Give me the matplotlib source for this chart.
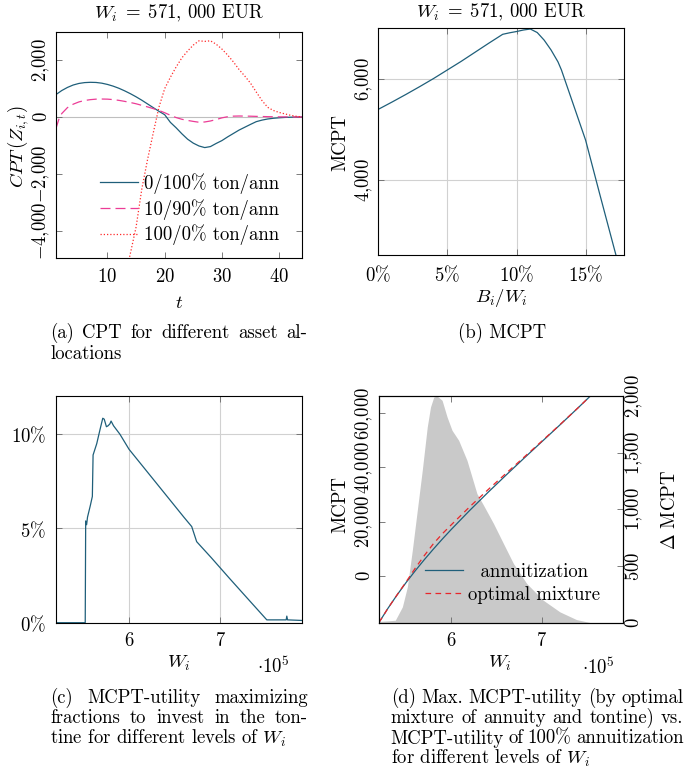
import numpy as np
import matplotlib
matplotlib.use('Agg')
import matplotlib.pyplot as plt
from matplotlib.ticker import FixedLocator, FuncFormatter

plt.rcParams['font.family'] = 'serif'
plt.rcParams['font.serif'] = ['cmr10']
plt.rcParams['mathtext.fontset'] = 'cm'
plt.rcParams['axes.unicode_minus'] = False
plt.rcParams['axes.formatter.use_mathtext'] = True

FS = 13.5
W_PX, H_PX = 685, 770

TEAL = '#1f5f7a'
PINK = '#ec3c96'
RED = '#ff2a2a'
RED_D = '#e8262a'
GRAY_FILL = '#c9c9c9'
GRID = '0.82'
TICK = '0.4'

# ---- (a) CPT per period for three allocations ----
t_ann = [1, 2, 3, 4, 5, 6, 7, 8, 9, 10, 11, 12, 13, 14, 15, 16, 17, 18, 19, 20,
         21, 22, 23, 24, 25, 26, 27, 28, 29, 30, 31, 32, 33, 34, 35, 36, 37, 38,
         39, 40, 41, 42, 43, 44]
cpt_ann = [790, 930, 1040, 1125, 1180, 1210, 1220, 1215, 1190, 1145, 1085, 1010,
           920, 820, 710, 590, 460, 330, 200, 80, -190, -380, -590, -780, -920,
           -1020, -1076, -1040, -930, -830, -700, -580, -460, -360, -260, -164,
           -110, -70, -45, -28, -15, -7, -3, 0]

t_mix = [1, 1.5, 2, 3, 4, 5, 6, 7, 8, 9, 10, 11, 12, 13, 14, 15, 16, 17, 18, 19,
         20, 21, 22, 23, 24, 25, 26, 27, 28, 29, 30, 31, 32, 33, 34, 35, 36, 38,
         40, 42, 44]
cpt_mix = [-397, -80, 120, 330, 450, 530, 580, 610, 628, 632, 628, 612, 585, 550,
           510, 465, 410, 355, 295, 230, 150, 60, -20, -80, -120, -155, -185,
           -175, -140, -90, -30, 10, 30, 35, 32, 28, 22, 12, 5, 2, 0]

t_ton = [13, 14, 15, 16, 17, 18, 19, 20, 21, 22, 23, 24, 25, 26, 27, 28, 29, 30,
         31, 32, 33, 34, 35, 36, 37, 38, 39, 40, 41, 42, 43, 44]
cpt_ton = [-5700, -4800, -3870, -2530, -1500, -560, 350, 1000, 1400, 1760, 2080,
           2320, 2530, 2680, 2660, 2680, 2560, 2390, 2180, 1940, 1670, 1440, 1190,
           880, 580, 340, 230, 160, 110, 60, 25, 0]

legend_a = ['0/100% ton/ann', '10/90% ton/ann', '100/0% ton/ann']

# ---- (b) MCPT vs tontine share ----
b_share = [0, 1, 2, 3, 4, 5, 6, 7, 8, 9, 9.5, 10, 10.5, 11, 11.5, 12, 12.5, 13,
           13.25, 14, 15, 16, 17.2]
b_mcpt = [5400, 5545, 5695, 5850, 6010, 6180, 6350, 6530, 6710, 6885, 6915, 6940,
          6970, 6990, 6920, 6770, 6575, 6340, 6180, 5585, 4790, 3745, 2510]

# ---- (c) optimal tontine fraction vs wealth (W in 1e5 EUR) ----
c_w = [5.20, 5.52, 5.525, 5.535, 5.545, 5.575, 5.598, 5.606, 5.646, 5.682, 5.712,
       5.728, 5.752, 5.77, 5.79, 5.803, 5.83, 5.9, 6.0, 6.2, 6.4, 6.6, 6.686,
       6.74, 6.9, 7.1, 7.3, 7.508, 7.6, 7.72, 7.727, 7.735, 7.89]
c_frac = [0, 0, 5.4, 5.2, 5.6, 6.2, 6.7, 8.9, 9.5, 10.25, 10.85, 10.8, 10.4,
          10.45, 10.55, 10.7, 10.45, 10.0, 9.2, 8.0, 6.8, 5.6, 5.1, 4.3, 3.45,
          2.35, 1.27, 0.15, 0.15, 0.15, 0.35, 0.15, 0.12]

# ---- (d) MCPT of annuitization vs optimal mixture, and the difference ----
d_w = [5.20, 5.30, 5.40, 5.50, 5.60, 5.70, 5.80, 5.90, 6.00, 6.20, 6.40, 6.60,
       6.80, 7.00, 7.20, 7.40, 7.535]
d_ann = [-17300, -12000, -7100, -2500, 1800, 5900, 9800, 13550, 17150, 24050,
         30650, 37050, 43350, 49550, 55750, 62050, 66400]
d_mix = [-17290, -11990, -7080, -2250, 2750, 7400, 11770, 15500, 18850, 25400,
         31640, 37710, 43730, 49755, 55845, 62070, 66400]

g_w = [5.20, 5.30, 5.38, 5.458, 5.513, 5.568, 5.623, 5.678, 5.733, 5.769, 5.805,
       5.842, 5.897, 5.952, 6.007, 6.08, 6.172, 6.227, 6.282, 6.355, 6.465, 6.575,
       6.685, 6.832, 7.014, 7.198, 7.381, 7.53, 7.89]
g_delta = [10, 15, 20, 138, 314, 638, 991, 1344, 1726, 1903, 1991, 2000, 1962,
           1815, 1697, 1609, 1432, 1285, 1138, 1035, 874, 697, 521, 344, 197, 94,
           26, 0, 0]

legend_d = ['  annuitization', 'optimal mixture']

TITLE = r'$W_i\;=\;571,\,000$ EUR'


def rect(x0, y0, x1, y1):
    return [x0 / W_PX, 1 - y1 / H_PX, (x1 - x0) / W_PX, (y1 - y0) / H_PX]


def fx(x):
    return x / W_PX


def fy(y):
    return 1 - y / H_PX


def thousands(v, pos=None):
    s = f'{abs(int(round(v))):,}'.replace(',', '{,}')
    return f'$-{s}$' if v < 0 else f'${s}$'


def percent(v, pos=None):
    return f'${v:g}\\%$'


def plain(v, pos=None):
    return f'${v:g}$'


def style(ax, top=True, right=True):
    ax.tick_params(direction='in', length=4, width=0.6, color=TICK,
                   labelsize=FS, top=top, right=right)
    for s in ax.spines.values():
        s.set_linewidth(0.8)


def rot_y(ax, pad):
    # pgfplots-style upright-reading y labels: baseline sits `pad` off the spine
    ax.tick_params(axis='y', labelrotation=90, pad=pad)
    for lbl in ax.get_yticklabels():
        lbl.set_rotation_mode('anchor')
        lbl.set_ha('center')
        lbl.set_va('baseline')


fig = plt.figure(figsize=(W_PX / 100, H_PX / 100), dpi=100)

# (a)
ax = fig.add_axes(rect(56, 32, 302, 258))
ax.axhline(0, color='0.75', lw=0.8, zorder=1)
ax.plot(t_ann, cpt_ann, color=TEAL, lw=0.9, label=legend_a[0])
ax.plot(t_mix, cpt_mix, color=PINK, lw=0.9, dashes=(8, 4), label=legend_a[1])
ax.plot(t_ton, cpt_ton, color=RED, lw=0.9, dashes=(1, 1.6), label=legend_a[2])
ax.set_xlim(1, 44)
ax.set_ylim(-4960, 2990)
ax.xaxis.set_major_locator(FixedLocator([10, 20, 30, 40]))
ax.yaxis.set_major_locator(FixedLocator([-4000, -2000, 0, 2000]))
ax.xaxis.set_major_formatter(FuncFormatter(plain))
ax.yaxis.set_major_formatter(FuncFormatter(thousands))
style(ax)
ax.tick_params(axis='x', pad=7)
rot_y(ax, 6.5)
ax.legend(frameon=False, loc='upper left', bbox_to_anchor=(fx(100), fy(173)),
          bbox_transform=fig.transFigure, borderpad=0, borderaxespad=0,
          handlelength=2.03, handletextpad=0.32, labelspacing=0.27, fontsize=FS)
fig.text(fx(179), fy(13), TITLE, ha='center', va='center', fontsize=FS)
fig.text(fx(18), fy(147), r'$CPT\,(Z_{i,t})$', rotation=90, ha='center', va='center', fontsize=FS)
fig.text(fx(179), fy(303), r'$t$', ha='center', va='center', fontsize=FS)

# (b)
ax = fig.add_axes(rect(378.3, 28.3, 624.3, 255.3))
ax.grid(True, color=GRID, lw=0.8)
ax.set_axisbelow(True)
ax.plot(b_share, b_mcpt, color=TEAL, lw=0.9)
ax.set_xlim(0, 17.8)
ax.set_ylim(2510, 7004)
ax.xaxis.set_major_locator(FixedLocator([0, 5, 10, 15]))
ax.yaxis.set_major_locator(FixedLocator([4000, 6000]))
ax.xaxis.set_major_formatter(FuncFormatter(percent))
ax.yaxis.set_major_formatter(FuncFormatter(thousands))
style(ax)
ax.tick_params(axis='x', pad=7)
rot_y(ax, 6)
fig.text(fx(501), fy(12), TITLE, ha='center', va='center', fontsize=FS)
fig.text(fx(340), fy(143), 'MCPT', rotation=90, ha='center', va='center', fontsize=FS)
fig.text(fx(501), fy(298), r'$B_i/W_i$', ha='center', va='center', fontsize=FS)

# (c)
ax = fig.add_axes(rect(56, 396, 301.7, 622.7))
ax.grid(True, color=GRID, lw=0.8)
ax.set_axisbelow(True)
ax.plot(c_w, c_frac, color=TEAL, lw=0.9)
ax.set_xlim(5.2, 7.89)
ax.set_ylim(0, 12.03)
ax.xaxis.set_major_locator(FixedLocator([6, 7]))
ax.yaxis.set_major_locator(FixedLocator([0, 5, 10]))
ax.xaxis.set_major_formatter(FuncFormatter(plain))
ax.yaxis.set_major_formatter(FuncFormatter(percent))
style(ax)
ax.tick_params(axis='x', pad=7)
ax.tick_params(axis='y', pad=7)
fig.text(fx(179), fy(663), r'$W_i$', ha='center', va='center', fontsize=FS)
fig.text(fx(273), fy(667), r'$\cdot 10^5$', ha='center', va='center', fontsize=FS)

# (d)
ax = fig.add_axes(rect(379, 396, 622.5, 622.5))
ax2 = ax.twinx()
ax2.fill_between(g_w, 0, g_delta, color=GRAY_FILL, lw=0)
ax2.set_ylim(0, 2000)
ax2.yaxis.set_major_locator(FixedLocator([0, 500, 1000, 1500, 2000]))
ax2.yaxis.set_major_formatter(FuncFormatter(thousands))
ax2.tick_params(direction='in', length=4, width=0.6, color=TICK, labelsize=FS,
                right=True, left=False, top=False, bottom=False)
ax2.tick_params(axis='y', labelrotation=90, pad=12.2)
for lbl in ax2.get_yticklabels():
    lbl.set_rotation_mode('anchor')
    lbl.set_ha('center')
    lbl.set_va('baseline')
ax.set_zorder(ax2.get_zorder() + 1)
ax.patch.set_visible(False)
ax.plot(d_w, d_ann, color=TEAL, lw=0.9, label=legend_d[0])
ax.plot(d_w, d_mix, color=RED_D, lw=0.9, dashes=(4.5, 3.5), label=legend_d[1])
ax.set_xlim(5.2, 7.89)
ax.set_ylim(-17300, 66400)
ax.xaxis.set_major_locator(FixedLocator([6, 7]))
ax.yaxis.set_major_locator(FixedLocator([0, 20000, 40000, 60000]))
ax.xaxis.set_major_formatter(FuncFormatter(plain))
ax.yaxis.set_major_formatter(FuncFormatter(thousands))
style(ax, top=True, right=False)
ax.tick_params(axis='x', pad=7)
rot_y(ax, 6.5)
for s in ax2.spines.values():
    s.set_linewidth(0.8)
ax.legend(frameon=False, loc='upper left', bbox_to_anchor=(fx(425), fy(563)),
          bbox_transform=fig.transFigure, borderpad=0, borderaxespad=0,
          handlelength=2.03, handletextpad=0.27, labelspacing=0.27, fontsize=FS)
fig.text(fx(340), fy(505), 'MCPT', rotation=90, ha='center', va='center', fontsize=FS)
fig.text(fx(670), fy(510), r'$\Delta$ MCPT', rotation=90, ha='center', va='center', fontsize=FS)
fig.text(fx(500), fy(663), r'$W_i$', ha='center', va='center', fontsize=FS)
fig.text(fx(598), fy(668), r'$\cdot 10^5$', ha='center', va='center', fontsize=FS)

# captions (justified like the LaTeX source)
renderer = fig.canvas.get_renderer()


def justified(words, x0, x1, y):
    texts = [fig.text(0, fy(y), w, ha='left', va='center', fontsize=FS) for w in words]
    widths = [t.get_window_extent(renderer).width for t in texts]
    gap = (x1 - x0 - sum(widths)) / (len(words) - 1)
    x = x0
    for t, w in zip(texts, widths):
        t.set_x(fx(x))
        x += w + gap


def left(line, x0, y):
    fig.text(fx(x0), fy(y), line, ha='left', va='center', fontsize=FS)


justified(['(a)', 'CPT', 'for', 'different', 'asset', 'al-'], 50, 307, 333)
left('locations', 50, 354)
fig.text(fx(501.7), fy(333), '(b) MCPT', ha='center', va='center', fontsize=FS)

justified(['(c)', 'MCPT-utility', 'maximizing'], 50, 308, 698)
justified(['fractions', 'to', 'invest', 'in', 'the', 'ton-'], 50, 308, 718)
left(r'tine for different levels of $W_i$', 50, 738.5)

justified(['(d)', 'Max.', 'MCPT-utility', '(by', 'optimal'], 390.7, 683.3, 698)
justified(['mixture', 'of', 'annuity', 'and', 'tontine)', 'vs.'], 390.7, 683.3, 718)
justified(['MCPT-utility', 'of', '100%', 'annuitization'], 390.7, 683.3, 738.5)
left(r'for different levels of $W_i$', 390.7, 758.5)

fig.savefig('out.png', dpi=100)
